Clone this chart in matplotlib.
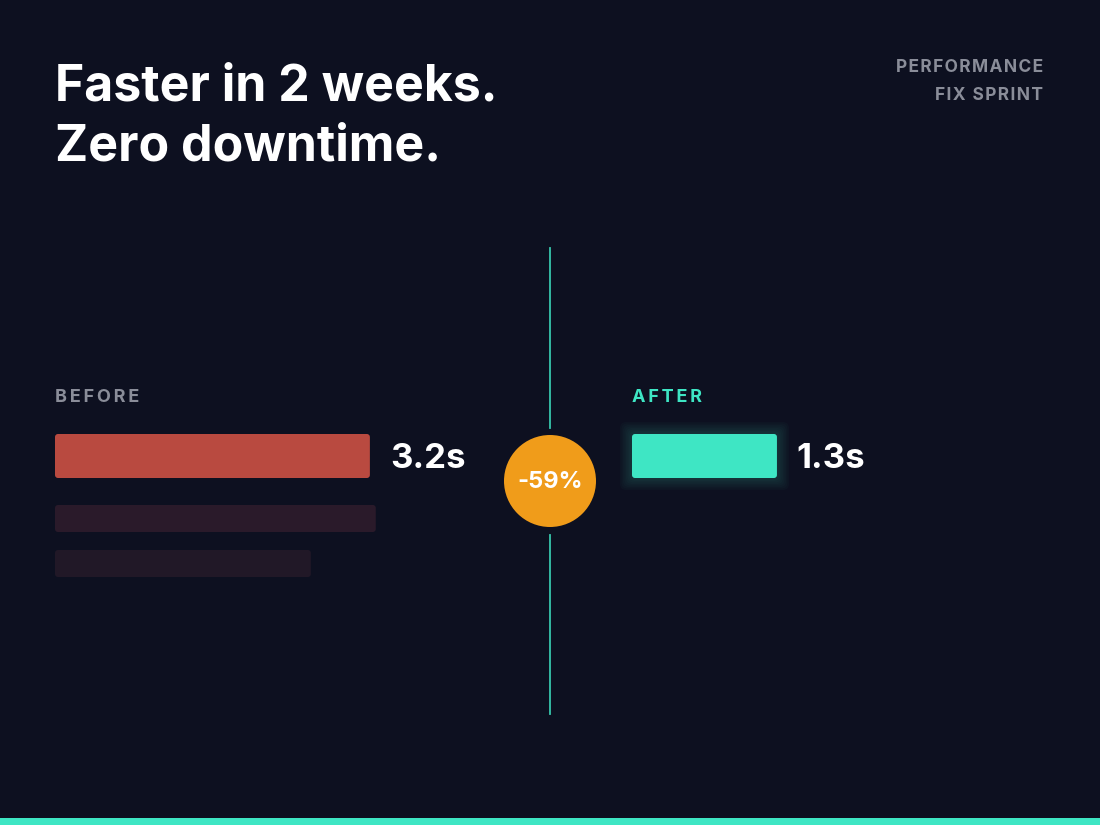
import matplotlib
matplotlib.use("Agg")
import matplotlib.pyplot as plt
from matplotlib.patches import FancyBboxPatch, Circle, Rectangle

labels = ["BEFORE", "AFTER"]
values = [3.2, 1.3]
value_labels = ["3.2s", "1.3s"]
change_label = "-59%"
ghost_values = [3.26, 2.6]
title_lines = ["Faster in 2 weeks.", "Zero downtime."]
tag_lines = ["PERFORMANCE", "FIX SPRINT"]

BG = "#0d1020"
RED = "#b94a40"
TEAL = "#3ee6c4"
ORANGE = "#f09c1a"
GRAY = "#8a8d99"

fig = plt.figure(figsize=(11, 8.25), dpi=100, facecolor=BG)
ax = fig.add_axes([0, 0, 1, 1])
ax.set_xlim(0, 1100); ax.set_ylim(825, 0); ax.axis("off")
ax.set_facecolor(BG)
FONT = "Inter"

def spaced(s, sep="\u200a\u200a"):
    return sep.join(s)

for i, t in enumerate(title_lines):
    ax.text(55, 87 + 60 * i, t, color="white", fontsize=36, fontweight="bold",
            family=FONT, va="center", ha="left")
for i, t in enumerate(tag_lines):
    ax.text(1043, 68 + 27 * i, spaced(t, "\u200a"), color=GRAY, fontsize=12.5, fontweight="bold",
            family=FONT, va="center", ha="right")

# before
sb = 98.4
ax.text(55, 397, spaced(labels[0]), color=GRAY, fontsize=13, fontweight="bold", family=FONT, va="center")
ax.add_patch(FancyBboxPatch((55, 434), values[0] * sb, 44, boxstyle="round,pad=0,rounding_size=3",
                            fc=RED, ec="none"))
ax.text(390, 459, value_labels[0], color="white", fontsize=25, fontweight="bold", family=FONT, va="center")
for j, (gv, c) in enumerate(zip(ghost_values, ["#2a1a2a", "#211827"])):
    ax.add_patch(FancyBboxPatch((55, 505 + 45 * j), gv * sb, 27, boxstyle="round,pad=0,rounding_size=3",
                                fc=c, ec="none"))

# after
sa = 111.5
ax.text(632, 397, spaced(labels[1]), color=TEAL, fontsize=13, fontweight="bold", family=FONT, va="center")
w = values[1] * sa
for k in range(8, 0, -1):
    ax.add_patch(FancyBboxPatch((632 - k * 1.5, 434 - k * 1.5), w + k * 3, 44 + k * 3,
                                boxstyle="round,pad=0,rounding_size=6", fc=TEAL, ec="none", alpha=0.025))
ax.add_patch(FancyBboxPatch((632, 434), w, 44, boxstyle="round,pad=0,rounding_size=3", fc=TEAL, ec="none"))
ax.text(796, 459, value_labels[1], color="white", fontsize=25, fontweight="bold", family=FONT, va="center")

# divider
ax.plot([550, 550], [248, 428], color=TEAL, lw=1.3, alpha=0.85)
ax.plot([550, 550], [535, 714], color=TEAL, lw=1.3, alpha=0.85)
ax.add_patch(Circle((550, 481), 46, fc=ORANGE, ec="none"))
ax.text(550, 482, change_label, color="white", fontsize=17, fontweight="bold", family=FONT,
        ha="center", va="center")

ax.add_patch(Rectangle((0, 818), 1100, 7, fc=TEAL, ec="none"))

fig.savefig("out.png", dpi=100, facecolor=BG)
